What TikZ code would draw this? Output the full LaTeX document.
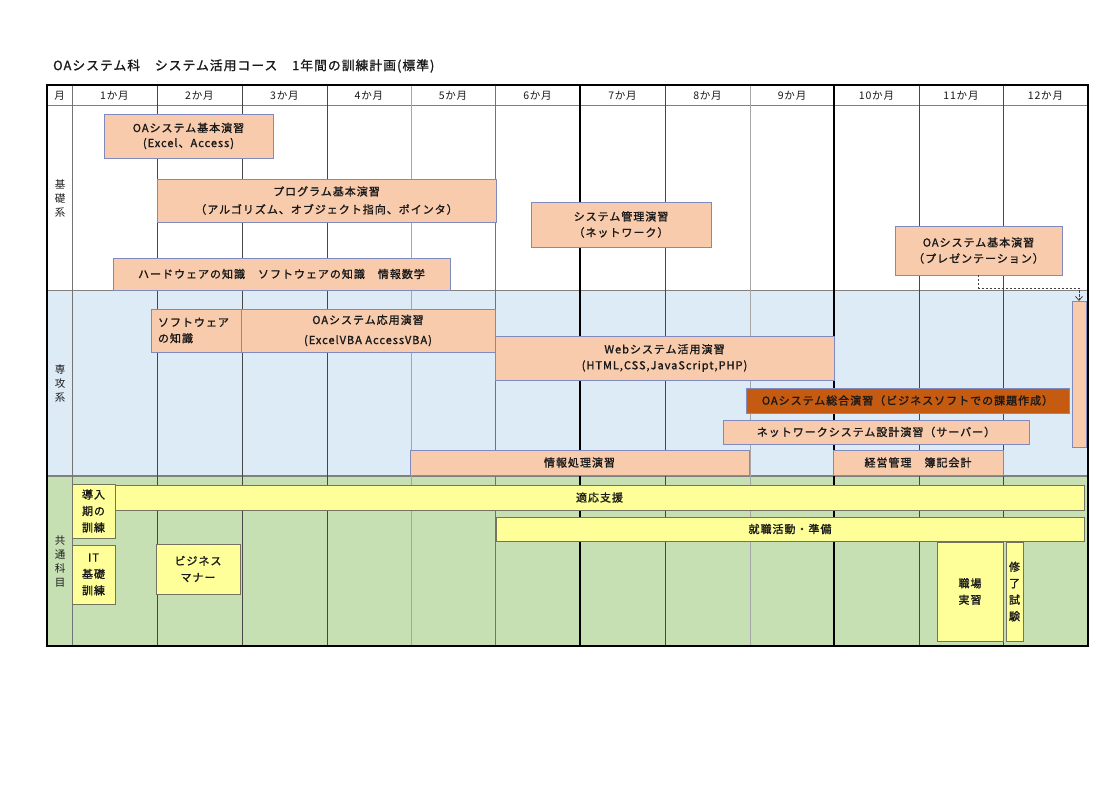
\documentclass[tikz,border=0pt]{standalone}
\usepackage{fontspec}
\setmainfont{Noto Sans CJK JP}
\newfontfamily\jpr[LetterSpace=8]{Noto Sans CJK JP}
\newfontfamily\jpb[LetterSpace=9,FakeBold=1.4]{Noto Sans CJK JP}
\newfontfamily\jpt[LetterSpace=8,FakeBold=1.2]{Noto Sans CJK JP}
\usetikzlibrary{arrows.meta}
\definecolor{orf}{RGB}{248,203,173}
\definecolor{orb}{RGB}{128,138,190}
\definecolor{dko}{RGB}{197,90,17}
\definecolor{lblue}{RGB}{221,235,247}
\definecolor{lgreen}{RGB}{198,224,180}
\definecolor{ylw}{RGB}{255,255,153}
\definecolor{ylb}{RGB}{115,115,95}
\definecolor{txt}{RGB}{25,25,25}
\tikzset{
  bx/.style={draw=orb, fill=orf, line width=0.9pt, inner sep=0pt, outer sep=0pt,
    align=center, text=txt, font=\jpb\fontsize{11}{16}\selectfont},
  bxd/.style={bx, fill=dko},
  yb/.style={draw=ylb, fill=ylw, line width=0.8pt, inner sep=0pt, outer sep=0pt,
    align=center, text=txt, font=\jpb\fontsize{11}{16.5}\selectfont},
  hdr/.style={inner sep=0pt, text=txt, font=\jpr\fontsize{10.5}{12}\selectfont},
  vlab/.style={inner sep=0pt, align=center, text=txt, font=\jpr\fontsize{10.5}{14}\selectfont},
  gdark/.style={draw=black!72, line width=0.8pt},
  glight/.style={draw=black!35, line width=1pt},
  gmid/.style={draw=black!55, line width=0.9pt},
  gthick/.style={draw=black, line width=2pt},
  hline/.style={draw=black!50, line width=1pt},
  conn/.style={draw=black!75, line width=0.8pt, dash pattern=on 2.5pt off 1.5pt,
    -{Straight Barb[length=4pt,width=7pt]}}
}
\newcommand\mybox[7]{%
  \node[#2, minimum width={(#5-#3)*1pt}, minimum height={(#6-#4)*1pt}]
    (#1) at ({(#3+#5)/2},{(#4+#6)/2}) {#7};}
\begin{document}
\begin{tikzpicture}[x=1pt,y=-1pt]
\useasboundingbox (0,0) rectangle (1120,791);
\fill[white] (0,0) rectangle (1120,791);
% title
\node[anchor=west, inner sep=0pt, text=txt, font=\jpt\fontsize{12.8}{14}\selectfont] (title) at (53,66)
  {OAシステム科　システム活用コース　1年間の訓練計画(標準)};
% row backgrounds
\fill[white] (47,85) rectangle (1088,291);
\fill[lblue] (47,291) rectangle (1088,476);
\fill[lgreen] (47,476) rectangle (1088,646);
% horizontal lines
\draw[hline] (47,106) -- (1088,106);
\draw[hline] (47,291) -- (1088,291);
\draw[hline, line width=1.4pt] (47,476) -- (1088,476);
% vertical grid
\foreach \x/\s in {72/gmid,157/gdark,242/gdark,327/gdark,411/glight,495/gmid,665/gdark,750/glight,919/gdark,1003/gdark}
  \draw[\s] (\x,85) -- (\x,646);
\draw[gthick] (580,85) -- (580,646);
\draw[gthick] (834,85) -- (834,646);
% header
\node[hdr] (m0) at (59.5,95.5) {月};
\foreach \i/\a/\b in {1/72/157,2/157/242,3/242/327,4/327/411,5/411/495,6/495/580,7/580/665,8/665/750,9/750/834,10/834/919,11/919/1003,12/1003/1088}
  \node[hdr] (m\i) at ({(\a+\b)/2},95.5) {{\i}か月};
% left labels
\node[vlab] (l1) at (60,199) {基\\礎\\系};
\node[vlab] (l2) at (60,384) {専\\攻\\系};
\node[vlab] (l3) at (60,562) {共\\通\\科\\目};
% 基礎系
\mybox{b1}{bx}{104}{114}{273}{158}{OAシステム基本演習\\[-1pt](Excel、Access)}
\mybox{b2}{bx}{157}{179}{496}{222}{プログラム基本演習\\[2pt]（アルゴリズム、オブジェクト指向、ポインタ）}
\mybox{b3}{bx}{531}{202}{711}{247}{システム管理演習\\（ネットワーク）}
\mybox{b4}{bx}{113}{258}{450}{290}{ハードウェアの知識　ソフトウェアの知識　情報数学}
\mybox{b5}{bx}{895}{226}{1062}{275}{OAシステム基本演習\\（プレゼンテーション）}
% 専攻系
\mybox{b6}{bx}{1072}{301}{1086}{447}{}
\node[bx, align=left, minimum height=43pt, text width=76pt, inner xsep=7pt] (b7) at (196,330.5) {ソフトウェア\\の知識};
\mybox{b8}{bx}{241}{309}{495}{352}{OAシステム応用演習\\[4pt](ExcelVBA AccessVBA)}
\mybox{b9}{bx}{495}{336}{834}{380}{Webシステム活用演習\\(HTML,CSS,JavaScript,PHP)}
\mybox{b10}{bxd}{746}{388}{1069}{413}{OAシステム総合演習（ビジネスソフトでの課題作成）}
\mybox{b11}{bx}{723}{420}{1029}{444}{ネットワークシステム設計演習（サーバー）}
\mybox{b12}{bx}{410}{450}{749}{475}{情報処理演習}
\mybox{b13}{bx}{833}{450}{1003}{475}{経営管理　簿記会計}
% connector
\coordinate (bend) at (1079,288);
\draw[conn] (b5.south) |- (bend) -- (b6.north);
% 共通科目
\mybox{c1}{yb}{72}{484}{115}{538}{導入\\期の\\訓練}
\mybox{c2}{yb}{115}{485}{1084}{510}{適応支援}
\mybox{c3}{yb}{496}{517}{1084}{541}{就職活動・準備}
\mybox{c4}{yb}{72}{545}{115}{604}{IT\\基礎\\訓練}
\mybox{c5}{yb}{156}{544}{240}{594}{ビジネス\\マナー}
\mybox{c6}{yb}{937}{542}{1003}{641}{職場\\実習}
\mybox{c7}{yb}{1006}{542}{1023}{641}{修\\了\\試\\験}
% outer border
\draw[black, line width=2pt] (47,85) rectangle (1088,646);
\end{tikzpicture}
\end{document}
